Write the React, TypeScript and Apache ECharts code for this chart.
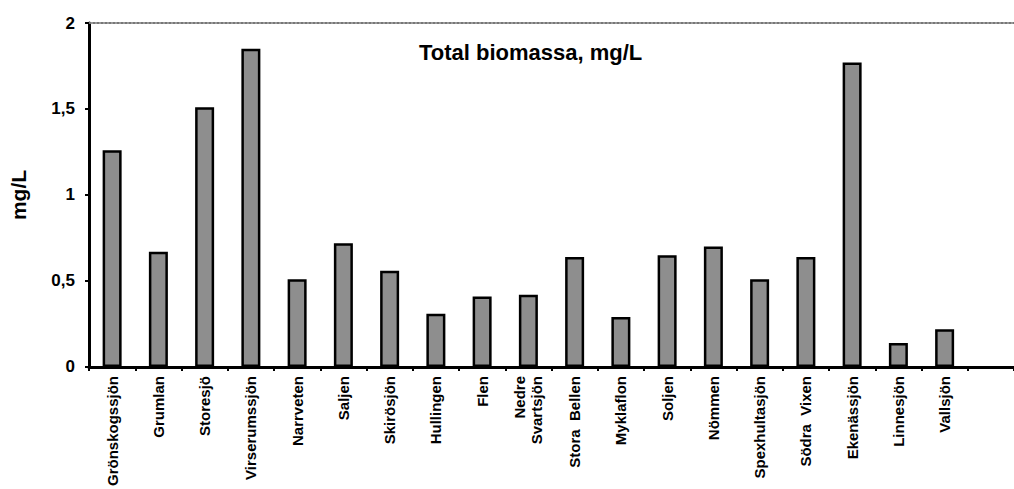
import React, { useEffect, useRef } from "react";
import * as echarts from "echarts";

const categories: string[] = [
  "Grönskogssjön",
  "Grumlan",
  "Storesjö",
  "Virserumssjön",
  "Narrveten",
  "Saljen",
  "Skirösjön",
  "Hullingen",
  "Flen",
  "Nedre\nSvartsjön",
  "Stora  Bellen",
  "Myklaflon",
  "Soljen",
  "Nömmen",
  "Spexhultasjön",
  "Södra  Vixen",
  "Ekenässjön",
  "Linnesjön",
  "Vallsjön",
  "",
];

const biomassa: (number | null)[] = [
  1.26, 0.67, 1.51, 1.85, 0.51, 0.72, 0.56, 0.31, 0.41, 0.42, 0.64, 0.29, 0.65,
  0.7, 0.51, 0.64, 1.77, 0.14, 0.22, null,
];

const yTicks = { min: 0, max: 2, interval: 0.5 };
const titleText = "Total biomassa, mg/L";
const yName = "mg/L";

const FONT = "'Liberation Sans', Arial, Helvetica, sans-serif";

export default function App() {
  const ref = useRef<HTMLDivElement>(null);
  useEffect(() => {
    if (!ref.current) return;
    const chart = echarts.init(ref.current, undefined, { renderer: "svg" });
    chart.setOption({
      animation: false,
      backgroundColor: "#ffffff",
      textStyle: { fontFamily: FONT },
      grid: { left: 88, top: 23, width: 934, height: 345, containLabel: false },
      graphic: [
        {
          type: "text",
          left: 419,
          top: 41,
          style: {
            text: titleText,
            font: `bold 22px ${FONT}`,
            fill: "#000",
          },
        },
      ],
      xAxis: [
        {
          type: "category",
          data: categories,
          position: "bottom",
          boundaryGap: true,
          axisLine: { show: true, lineStyle: { color: "#000", width: 3 } },
          axisTick: { show: true, interval: 0, length: 4, lineStyle: { color: "#000", width: 2 } },
          axisLabel: {
            interval: 0,
            rotate: 90,
            margin: 9,
            color: "#000",
            fontWeight: "bold",
            fontSize: 15,
            fontFamily: FONT,
            lineHeight: 17,
          },
          splitLine: { show: false },
        },
        {
          type: "category",
          data: categories,
          position: "top",
          axisLine: { show: true, lineStyle: { color: "#777", width: 2, type: "dotted" } },
          axisTick: { show: false },
          axisLabel: { show: false },
        },
      ],
      yAxis: {
        type: "value",
        min: yTicks.min,
        max: yTicks.max,
        interval: yTicks.interval,
        name: yName,
        nameLocation: "middle",
        nameRotate: 90,
        nameGap: 60,
        nameTextStyle: { fontSize: 21, fontWeight: "bold", color: "#000", fontFamily: FONT },
        axisLine: { show: true, lineStyle: { color: "#000", width: 3 } },
        axisTick: { show: true, length: 4, lineStyle: { color: "#000", width: 2 } },
        axisLabel: {
          margin: 14,
          color: "#000",
          fontWeight: "bold",
          fontSize: 17,
          fontFamily: FONT,
          formatter: (v: number) => String(v).replace(".", ","),
        },
        splitLine: { show: false },
      },
      series: [
        {
          type: "bar",
          data: biomassa,
          xAxisIndex: 0,
          barWidth: 19,
          itemStyle: {
            color: "#8e8e8e",
            borderColor: "#000",
            borderWidth: 2.5,
          },
        },
      ],
    });
    return () => chart.dispose();
  }, []);
  return (
    <div
      ref={ref}
      style={{ position: "fixed", left: 0, top: 0, width: 1014, height: 489, overflow: "hidden" }}
    />
  );
}
